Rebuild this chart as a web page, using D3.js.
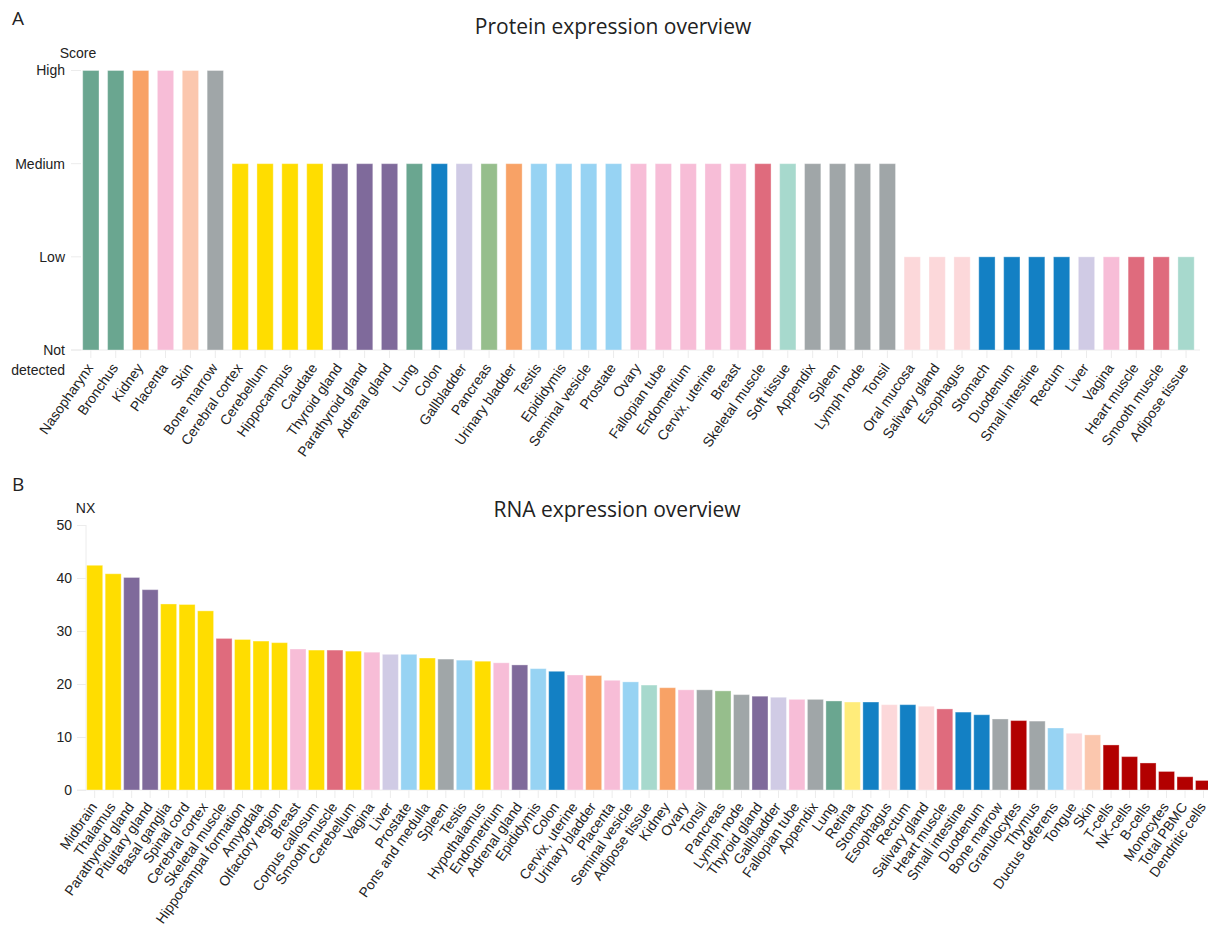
<!DOCTYPE html>
<html>
<head>
<meta charset="utf-8">
<script src="https://cdn.jsdelivr.net/npm/d3@7"></script>
<style>
  html, body { margin: 0; padding: 0; background: #fff; }
  svg { display: block; }
  .tick-label { font-family: "Liberation Sans", Arial, sans-serif; fill: #222; }
  .title { font-family: "Open Sans", "Noto Sans", sans-serif; fill: #222; }
</style>
</head>
<body>
<svg id="chart" width="1208" height="928"></svg>
<script>
// ---- Panel A: protein expression score per tissue ----
const proteinTissues = ["Nasopharynx","Bronchus","Kidney","Placenta","Skin","Bone marrow",
  "Cerebral cortex","Cerebellum","Hippocampus","Caudate","Thyroid gland","Parathyroid gland",
  "Adrenal gland","Lung","Colon","Gallbladder","Pancreas","Urinary bladder","Testis","Epididymis",
  "Seminal vesicle","Prostate","Ovary","Fallopian tube","Endometrium","Cervix, uterine","Breast",
  "Skeletal muscle","Soft tissue","Appendix","Spleen","Lymph node","Tonsil","Oral mucosa",
  "Salivary gland","Esophagus","Stomach","Duodenum","Small intestine","Rectum","Liver","Vagina",
  "Heart muscle","Smooth muscle","Adipose tissue"];
const proteinLevels = ["High","High","High","High","High","High",
  "Medium","Medium","Medium","Medium","Medium","Medium","Medium","Medium","Medium","Medium",
  "Medium","Medium","Medium","Medium","Medium","Medium","Medium","Medium","Medium","Medium",
  "Medium","Medium","Medium","Medium","Medium","Medium","Medium",
  "Low","Low","Low","Low","Low","Low","Low","Low","Low","Low","Low","Low"];
const proteinGroups = ["lung","lung","kidney","female","skin","lymphoid",
  "brain","brain","brain","brain","endocrine","endocrine","endocrine","lung","gi","liver",
  "pancreas","kidney","male","male","male","male","female","female","female","female","female",
  "muscle","adipose","lymphoid","lymphoid","lymphoid","lymphoid","proxdig","proxdig","proxdig",
  "gi","gi","gi","gi","liver","female","muscle","muscle","adipose"];
const scoreTicks = ["Not detected","Low","Medium","High"];

// ---- Panel B: RNA expression (NX) per tissue / blood cell type ----
const rnaTissues = ["Midbrain","Thalamus","Parathyroid gland","Pituitary gland","Basal ganglia",
  "Spinal cord","Cerebral cortex","Skeletal muscle","Hippocampal formation","Amygdala",
  "Olfactory region","Breast","Corpus callosum","Smooth muscle","Cerebellum","Vagina","Liver",
  "Prostate","Pons and medulla","Spleen","Testis","Hypothalamus","Endometrium","Adrenal gland",
  "Epididymis","Colon","Cervix, uterine","Urinary bladder","Placenta","Seminal vesicle",
  "Adipose tissue","Kidney","Ovary","Tonsil","Pancreas","Lymph node","Thyroid gland",
  "Gallbladder","Fallopian tube","Appendix","Lung","Retina","Stomach","Esophagus","Rectum",
  "Salivary gland","Heart muscle","Small intestine","Duodenum","Bone marrow","Granulocytes",
  "Thymus","Ductus deferens","Tongue","Skin","T-cells","NK-cells","B-cells","Monocytes",
  "Total PBMC","Dendritic cells"];
const rnaNX = [42.4,40.8,40.1,37.8,35.1,35.0,33.8,28.6,28.4,28.1,27.8,26.6,26.4,26.4,26.2,26.0,
  25.6,25.6,24.9,24.7,24.5,24.3,24.0,23.6,22.9,22.4,21.7,21.6,20.7,20.4,19.8,19.3,18.9,18.9,
  18.7,18.0,17.7,17.5,17.1,17.1,16.8,16.6,16.6,16.1,16.1,15.8,15.3,14.7,14.2,13.4,13.1,13.0,
  11.7,10.7,10.4,8.5,6.3,5.1,3.5,2.5,1.8];
const rnaGroups = ["brain","brain","endocrine","endocrine","brain","brain","brain","muscle",
  "brain","brain","brain","female","brain","muscle","brain","female","liver","male","brain",
  "lymphoid","male","brain","female","endocrine","male","gi","female","kidney","female","male",
  "adipose","kidney","female","lymphoid","pancreas","lymphoid","endocrine","liver","female",
  "lymphoid","lung","eye","gi","proxdig","gi","proxdig","muscle","gi","gi","lymphoid","blood",
  "lymphoid","male","proxdig","skin","blood","blood","blood","blood","blood","blood"];
const nxTicks = [0,10,20,30,40,50];

// tissue group colour palette
const groupColor = d3.scaleOrdinal()
  .domain(["brain","eye","endocrine","lung","proxdig","gi","liver","pancreas","kidney","male",
           "female","muscle","adipose","skin","lymphoid","blood"])
  .range(["#FFDD00","#FFEC7A","#7F6A9B","#6AA690","#FCD8DA","#1380C4","#D0CBE5","#96BE8C",
          "#F8A266","#97D3F3","#F7BDD7","#DF6B7D","#A7D9CD","#FBC7AE","#A0A6A8","#B20000"]);

const svg = d3.select("#chart");
const faint = "#ececec";
const labelAngle = -55;

// ================= Panel A =================
const gA = svg.append("g");
const baseA = 350;
const xA = d3.scaleBand().domain(proteinTissues).range([78.4, 1198.5])
  .paddingInner(0.345).paddingOuter(0.1725);
const yA = d3.scalePoint().domain(scoreTicks).range([baseA, 70.5]);

gA.append("text").attr("class", "title").attr("x", 12).attr("y", 25)
  .style("font-size", "19px").text("A");
gA.append("text").attr("class", "title").attr("x", 613).attr("y", 34)
  .attr("text-anchor", "middle").style("font-size", "21px").text("Protein expression overview");
gA.append("text").attr("class", "tick-label").attr("x", 78).attr("y", 58)
  .attr("text-anchor", "middle").style("font-size", "14px").text("Score");

// y axis ticks
const yAxisA = gA.append("g");
scoreTicks.forEach(t => {
  const y = yA(t);
  yAxisA.append("line").attr("x1", 71).attr("x2", 81).attr("y1", y).attr("y2", y)
    .attr("stroke", faint);
  const txt = yAxisA.append("text").attr("class", "tick-label").attr("x", 65).attr("y", y)
    .attr("text-anchor", "end").style("font-size", "14px");
  const words = t === "Not detected" ? ["Not", "detected"] : [t];
  words.forEach((w, i) => txt.append("tspan").attr("x", 65).attr("dy", i === 0 ? "0.35em" : "20px").text(w));
});
// baseline and category ticks
gA.append("line").attr("x1", 71).attr("x2", 1200).attr("y1", baseA).attr("y2", baseA)
  .attr("stroke", faint);
gA.append("g").selectAll("line").data(proteinTissues).join("line")
  .attr("x1", d => xA(d) + xA.bandwidth() / 2).attr("x2", d => xA(d) + xA.bandwidth() / 2)
  .attr("y1", baseA).attr("y2", baseA + 8).attr("stroke", faint);

gA.append("g").selectAll("rect").data(proteinTissues).join("rect")
  .attr("x", d => xA(d)).attr("width", xA.bandwidth())
  .attr("y", (d, i) => yA(proteinLevels[i]))
  .attr("height", (d, i) => baseA - yA(proteinLevels[i]))
  .attr("fill", (d, i) => groupColor(proteinGroups[i]))
  .attr("stroke", "#fff").attr("stroke-opacity", 0.35).attr("stroke-width", 1);

gA.append("g").selectAll("text").data(proteinTissues).join("text")
  .attr("class", "tick-label").style("font-size", "14px")
  .attr("text-anchor", "end")
  .attr("transform", d => `translate(${xA(d) + xA.bandwidth() / 2 - 1},${baseA + 15}) rotate(${labelAngle})`)
  .attr("dy", "0.35em").text(d => d);

// ================= Panel B =================
const gB = svg.append("g");
const baseB = 790;
const xB = d3.scaleBand().domain(rnaTissues).range([85.46, 85.46 + 61 * 18.48])
  .paddingInner(0.134).paddingOuter(0.067);
const yB = d3.scaleLinear().domain([0, 50]).range([baseB, 525]);

gB.append("text").attr("class", "title").attr("x", 12).attr("y", 491)
  .style("font-size", "19px").text("B");
gB.append("text").attr("class", "title").attr("x", 617).attr("y", 517)
  .attr("text-anchor", "middle").style("font-size", "21px").text("RNA expression overview");
gB.append("text").attr("class", "tick-label").attr("x", 85.5).attr("y", 513)
  .attr("text-anchor", "middle").style("font-size", "14px").text("NX");

const yAxisB = gB.append("g").attr("transform", "translate(86,0)")
  .call(d3.axisLeft(yB).tickValues(nxTicks).tickSize(9).tickPadding(5));
yAxisB.select(".domain").attr("stroke", faint).attr("d", `M0,${yB(50)}V${yB(0)}`);
yAxisB.selectAll(".tick line").attr("stroke", faint);
yAxisB.selectAll(".tick text").attr("class", "tick-label")
  .style("font-size", "14px").attr("fill", "#222");

gB.append("line").attr("x1", 77).attr("x2", 1208).attr("y1", baseB).attr("y2", baseB)
  .attr("stroke", faint);
gB.append("g").selectAll("line").data(rnaTissues).join("line")
  .attr("x1", d => xB(d) + xB.bandwidth() / 2).attr("x2", d => xB(d) + xB.bandwidth() / 2)
  .attr("y1", baseB).attr("y2", baseB + 8).attr("stroke", faint);

gB.append("g").selectAll("rect").data(rnaTissues).join("rect")
  .attr("x", d => xB(d)).attr("width", xB.bandwidth())
  .attr("y", (d, i) => yB(rnaNX[i]))
  .attr("height", (d, i) => baseB - yB(rnaNX[i]))
  .attr("fill", (d, i) => groupColor(rnaGroups[i]))
  .attr("stroke", "#fff").attr("stroke-opacity", 0.35).attr("stroke-width", 1);

gB.append("g").selectAll("text").data(rnaTissues).join("text")
  .attr("class", "tick-label").style("font-size", "14px")
  .attr("text-anchor", "end")
  .attr("transform", d => `translate(${xB(d) + xB.bandwidth() / 2 - 1},${baseB + 14}) rotate(${labelAngle})`)
  .attr("dy", "0.35em").text(d => d);
</script>
</body>
</html>
